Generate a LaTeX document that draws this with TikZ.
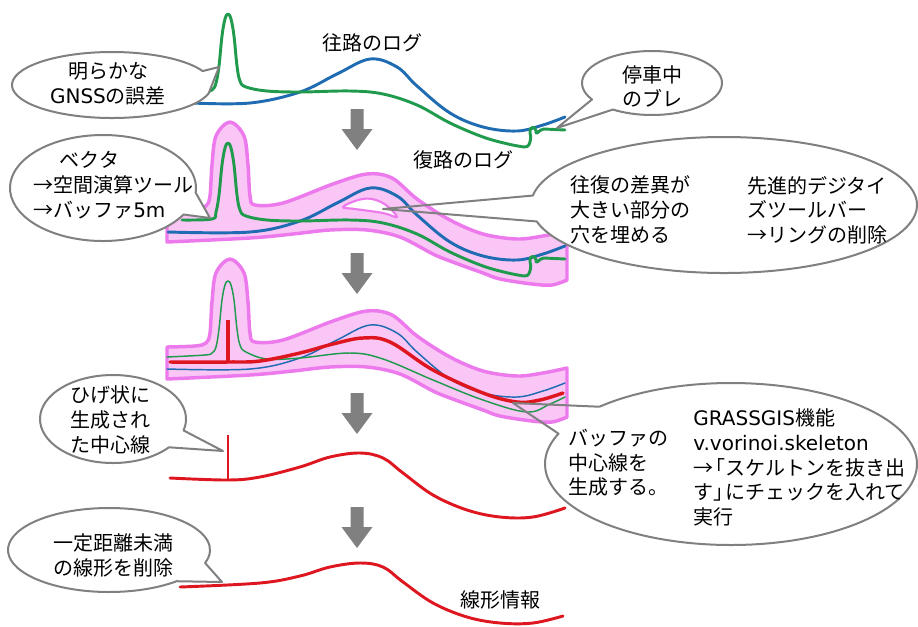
\documentclass[tikz,border=0pt]{standalone}
\usepackage{fontspec}
\setmainfont{Noto Sans CJK JP}
\newfontfamily\latin{DejaVu Sans}
\definecolor{cblue}{RGB}{31,108,178}
\definecolor{cgreen}{RGB}{32,155,78}
\definecolor{cpinkfill}{RGB}{250,198,246}
\definecolor{cpinkline}{RGB}{236,122,236}
\definecolor{cred}{RGB}{222,22,32}
\definecolor{cgrey}{RGB}{128,128,128}

\newcommand\bufshape{%
\filldraw[fill=cpinkfill, draw=cpinkline, line width=2.6pt]
 (167,242) -- (167,210) -- plot[smooth, tension=0.55] coordinates {(167,210) (195,209) (206,206) (210,196) (212,165) (216,136) (230,122) (244,136) (248,165) (250,196) (255,205) (283,203) (333,184) (367,174) (392,178) (417,199) (450,220) (483,234) (517,239) (543,236) (567,231)}
 -- (567,280) -- plot[smooth, tension=0.55] coordinates {(567,280) (552,285) (532,284) (500,279) (483,273) (450,261) (433,254) (400,237) (367,230) (330,230) (293,234) (250,238) (167,242)} -- cycle;}

\newcommand\bluecurve[2]{\draw[#1, draw=cblue] plot[smooth, tension=0.6] coordinates {#2 (250,232) (300,221) (337,203) (370,188) (397,196) (417,215) (450,242) (483,256) (517,260) (543,254) (565,246)};}

\newcommand\greencurve[2]{\draw[#1, draw=cgreen] plot[smooth, tension=0.6] coordinates {#2 (212,219) (216,212) (219,195) (222,165) (225,148) (228,143) (231,148) (234,165) (237,195) (240,210) (246,216) (267,220) (300,221) (350,220) (383,223) (417,234) (450,252) (483,266) (508,273) (524,276)}
 .. controls (529,278) and (532,268) .. (530,262) .. controls (528,256) and (536,254) .. (536,260) .. controls (536,266) and (539,258) .. (544,258) -- (565,259);}

% callout with white-filled tail: cx cy rx ry ta tb ax ay
\newcommand\calloutF[8]{%
\filldraw[fill=white, draw=cgrey, line width=1.5pt, line join=round] (#1,#2) ++({#3*cos(#6)},{#4*sin(#6)}) arc[start angle=#6, end angle={#5+360}, x radius=#3, y radius=#4] -- (#7,#8) -- cycle;}
% callout with open tail
\newcommand\calloutO[8]{%
\fill[white] (#1,#2) ellipse [x radius=#3, y radius=#4];
\draw[draw=cgrey, line width=1.5pt, line join=round] (#1,#2) ++({#3*cos(#6)},{#4*sin(#6)}) arc[start angle=#6, end angle={#5+360}, x radius=#3, y radius=#4] -- (#7,#8) -- cycle;}

\newcommand\grayarrow[1]{%
\fill[cgrey] (350.5,#1) -- (363.5,#1) -- (363.5,#1+20) -- (372.5,#1+20) -- (357,#1+41) -- (341.5,#1+20) -- (350.5,#1+20) -- cycle;}

\begin{document}
\begin{tikzpicture}[x=0.75pt,y=-0.75pt, line cap=round, line join=round,
  thick/.style={line width=2.2pt},
  thin/.style={line width=1.1pt},
  txt/.style={inner sep=0pt, font=\fontsize{15pt}{18.5pt}\selectfont, text=black}]
\useasboundingbox[fill=white] (0,0) rectangle (918,626);

% ---------- arrows
\grayarrow{109}
\grayarrow{253}
\grayarrow{393}
\grayarrow{507}

% ---------- panel 1
\begin{scope}[shift={(0,-129)}]
\bluecurve{thick}{(192,232)}
\greencurve{thick}{(202,222)}
\end{scope}

% ---------- panel 2
\bufshape
\filldraw[fill=white, draw=cpinkline, line width=1.6pt] plot[smooth cycle, tension=0.6] coordinates {(343,207) (358,200) (372,199) (386,205) (397,217) (383,213) (355,209)};
\bluecurve{thick}{(168,232)}
\greencurve{thick}{(182,220)}

% ---------- panel 3
\begin{scope}[shift={(0,137)}]
\bufshape
\draw[thin, cblue] plot[smooth, tension=0.6] coordinates {(167,232) (250,232) (300,221) (337,203) (370,188) (397,196) (417,215) (450,242) (483,256) (517,260) (543,254) (565,246)};
\draw[thin, cgreen] plot[smooth, tension=0.6] coordinates {(167,220) (205,218) (212,216) (216,210) (219,192) (222,163) (225,148) (228,144) (231,148) (234,163) (237,192) (240,208) (246,215) (267,222) (300,221) (350,216) (383,222) (433,243) (483,263) (527,275) (550,267) (565,260)};
\draw[line width=2.6pt, cred] plot[smooth, tension=0.6] coordinates {(170,225) (228,225) (260,224) (300,216) (333,207) (363,201) (390,205) (433,233) (483,256) (517,265) (540,263) (563,256)};
\draw[line width=2.6pt, cred, line cap=butt] (228,225) -- (228,183);
\end{scope}

% ---------- panel 4
\draw[thick, cred] plot[smooth, tension=0.6] coordinates {(170,478) (228,480) (260,477) (300,467) (330,457) (360,453) (383,458) (403,473) (433,495) (467,510) (500,517) (533,517) (565,508)};
\draw[thick, cred, line cap=butt] (228,480) -- (228,435);

% ---------- panel 5
\draw[thick, cred] plot[smooth, tension=0.6] coordinates {(180,587) (260,583) (300,576) (330,567) (360,563) (383,567) (403,582) (433,603) (467,617) (500,623) (533,623) (563,616)};

% ---------- callouts
\calloutF{112}{85}{100}{33}{-25}{15}{219}{67}
\calloutF{103}{188}{93}{53}{5}{30}{210}{218}
\calloutF{652}{83}{70}{32}{124}{149}{557}{128}
\calloutO{724}{205}{193}{68}{166}{188}{383}{209}
\calloutO{731}{464}{186}{81}{202}{225}{513}{403}
\calloutF{113}{419}{73}{44}{15}{40}{223}{451}
\calloutF{109}{550}{101}{42}{18}{48}{222}{582}

% ---------- texts
\node[txt, align=center] (c1) at (108,83.5) {明らかな\\{\latin GNSS}の誤差};
\node[txt, align=left, anchor=west] (c2) at (33,185) {\hspace*{20pt}ベクタ\\→空間演算ツール\\→バッファ{\latin 5m}};
\node[txt, align=left, anchor=west] (c3) at (622,86.5) {停車中\\のブレ};
\node[txt, align=left, anchor=west] (c4a) at (570,210) {往復の差異が\\大きい部分の\\穴を埋める};
\node[txt, align=left, anchor=west] (c4b) at (747,210) {先進的デジタイ\\ズツールバー\\→リングの削除};
\node[txt, align=left, anchor=west] (c5a) at (568,463) {バッファの\\中心線を\\生成する。};
\node[txt, align=left, anchor=west] (c5b) at (693,467.5) {{\latin GRASSGIS}機能\\{\latin v.vorinoi.skeleton}\\→\kern-6pt「スケルトンを抜き出\\す」\kern-6pt にチェックを入れて\\実行};
\node[txt, align=center] (c6) at (110,420) {ひげ状に\\生成され\\た中心線};
\node[txt, align=center] (c7) at (113,555.5) {一定距離未満\\の線形を削除};
\node[txt] (l1) at (372,43) {往路のログ};
\node[txt] (l2) at (463,160) {復路のログ};
\node[txt] (l3) at (500,600) {線形情報};
\end{tikzpicture}
\end{document}
